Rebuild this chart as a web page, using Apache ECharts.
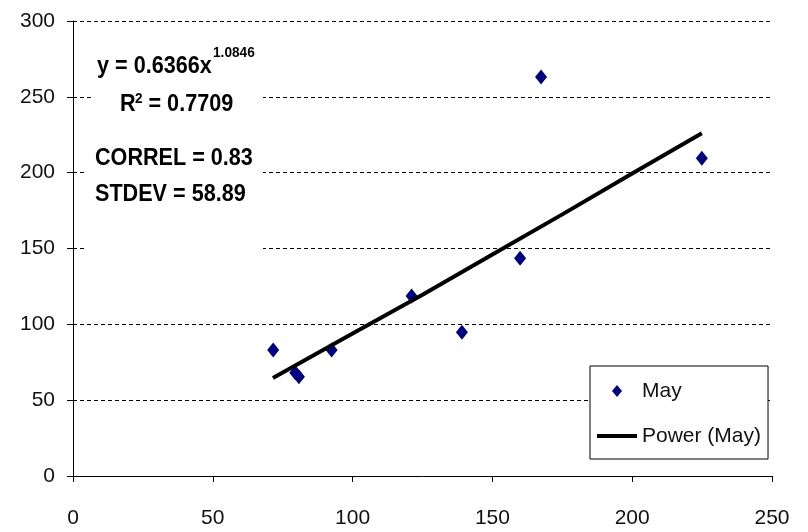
<!DOCTYPE html>
<html>
<head>
<meta charset="utf-8">
<script src="https://cdn.jsdelivr.net/npm/echarts@6/dist/echarts.min.js"></script>
<style>html,body{margin:0;padding:0;background:#fff;}#c{width:808px;height:532px;}</style>
</head>
<body>
<div id="c"></div>
<script>
// Data
var mayPoints = [[71.6,83],[79.5,68],[80.8,65.5],[92.5,83],[121.1,118.7],[139.1,94.7],[159.9,143.5],[167.4,263],[224.9,209.5]];
var powerTrend = [[71.5,64.6],[100,94],[125,119.5],[150,146],[175,172.5],[200,199.5],[224.9,226]];
var xTicks = [0,50,100,150,200,250];
var yTicks = [0,50,100,150,200,250,300];
var seriesNames = ['May','Power (May)'];
var statLines = ['y = 0.6366x','1.0846','R','2',' = 0.7709','CORREL = 0.83','STDEV = 58.89'];

var FONT = "'Liberation Sans', Arial, sans-serif";
var chart = echarts.init(document.getElementById('c'), null, {renderer:'canvas'});
chart.setOption({
  animation:false,
  backgroundColor:'#fff',
  grid:{left:73, right:36, top:21, bottom:56, containLabel:false},
  xAxis:{
    type:'value', min:xTicks[0], max:xTicks[xTicks.length-1], interval:50,
    axisLine:{show:true, onZero:false, lineStyle:{color:'#000', width:1}},
    axisTick:{show:true, inside:false, length:6, lineStyle:{color:'#000'}},
    axisLabel:{color:'#111', fontFamily:FONT, fontSize:21, margin:32},
    splitLine:{show:false}
  },
  yAxis:{
    type:'value', min:yTicks[0], max:yTicks[yTicks.length-1], interval:50,
    axisLine:{show:true, onZero:false, lineStyle:{color:'#000', width:1}},
    axisTick:{show:true, inside:false, length:6, lineStyle:{color:'#000'}},
    axisLabel:{color:'#111', fontFamily:FONT, fontSize:21, margin:18},
    splitLine:{show:true, lineStyle:{color:'#000', width:1, type:[4,3]}}
  },
  legend:{
    orient:'vertical', left:590, top:366,
    padding:[13,7,11,7],
    itemGap:21, itemWidth:40, itemHeight:12,
    backgroundColor:'#fff', borderColor:'#000', borderWidth:1, borderRadius:0,
    textStyle:{fontFamily:FONT, fontSize:21, color:'#111', lineHeight:24},
    data:[
      {name:seriesNames[0], icon:'path://M5,0L10,6L5,12L0,6Z', itemStyle:{color:'#000080', opacity:1}},
      {name:seriesNames[1], icon:'path://M0,0L40,0L40,4L0,4Z', itemStyle:{color:'#000', opacity:1}}
    ]
  },
  graphic:[
    {type:'rect', z:5, shape:{x:93, y:38, width:170, height:80}, style:{fill:'#fff'}},
    {type:'rect', z:5, shape:{x:84, y:135, width:179, height:125}, style:{fill:'#fff'}},
    {type:'text', z:6, x:97, y:66, scaleX:0.9, style:{text:statLines[0], fontFamily:FONT, fontSize:24, fontWeight:'bold', fill:'#000', verticalAlign:'middle', align:'left'}},
    {type:'text', z:6, x:213, y:52.5, scaleX:0.88, style:{text:statLines[1], fontFamily:FONT, fontSize:15.5, fontWeight:'bold', fill:'#000', verticalAlign:'middle', align:'left'}},
    {type:'text', z:6, x:120, y:104.5, scaleX:0.9, style:{text:statLines[2], fontFamily:FONT, fontSize:24, fontWeight:'bold', fill:'#000', verticalAlign:'middle', align:'left'}},
    {type:'text', z:6, x:135, y:99, scaleX:0.9, style:{text:statLines[3], fontFamily:FONT, fontSize:15, fontWeight:'bold', fill:'#000', verticalAlign:'middle', align:'left'}},
    {type:'text', z:6, x:142.5, y:104.5, scaleX:0.9, style:{text:statLines[4], fontFamily:FONT, fontSize:24, fontWeight:'bold', fill:'#000', verticalAlign:'middle', align:'left'}},
    {type:'text', z:6, x:95, y:158, scaleX:0.9, style:{text:statLines[5], fontFamily:FONT, fontSize:24, fontWeight:'bold', fill:'#000', verticalAlign:'middle', align:'left'}},
    {type:'text', z:6, x:95, y:194.5, scaleX:0.9, style:{text:statLines[6], fontFamily:FONT, fontSize:24, fontWeight:'bold', fill:'#000', verticalAlign:'middle', align:'left'}}
  ],
  series:[
    {
      name:seriesNames[0], type:'scatter', data:mayPoints,
      symbol:'diamond', symbolSize:[12,15],
      itemStyle:{color:'#000080', opacity:1}, z:2
    },
    {
      name:seriesNames[1], type:'line', data:powerTrend,
      symbol:'none', showSymbol:false, smooth:false,
      lineStyle:{color:'#000', width:4}, itemStyle:{color:'#000'}, z:3
    }
  ]
});
</script>
</body>
</html>
